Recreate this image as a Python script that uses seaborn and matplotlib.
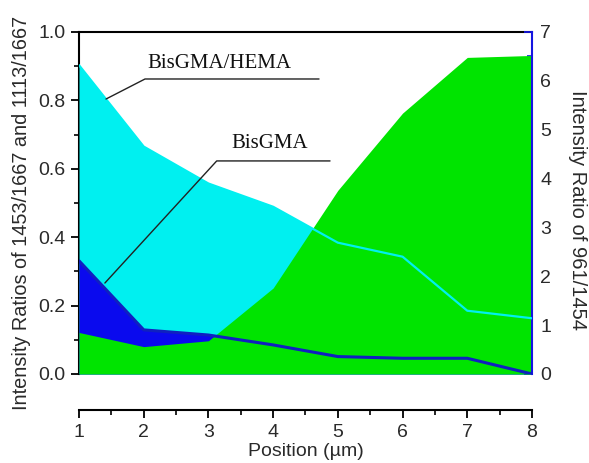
import matplotlib
matplotlib.use("Agg")
import matplotlib.pyplot as plt
from matplotlib.ticker import MultipleLocator
import seaborn as sns
import pandas as pd

# ---- data ----
position = [1, 2, 3, 4, 5, 6, 7, 8]
bisgma_hema = [0.903, 0.665, 0.557, 0.489, 0.384, 0.343, 0.185, 0.163]   # left axis
bisgma = [0.331, 0.129, 0.114, 0.085, 0.051, 0.046, 0.046, 0.0]          # left axis
ratio_961_1454 = [0.85, 0.56, 0.68, 1.76, 3.76, 5.34, 6.48, 6.52]        # right axis

label_left = "Intensity Ratios of 1453/1667 and 1113/1667"
label_right = "Intensity Ratio of 961/1454"
label_x = "Position (\u00b5m)"
ann_hema = "BisGMA/HEMA"
ann_bis = "BisGMA"

df = pd.DataFrame({"pos": position, "hema": bisgma_hema, "bis": bisgma, "r": ratio_961_1454})

sns.set_style("white")
plt.rcParams["font.family"] = ["Liberation Sans", "DejaVu Sans"]

CYAN = "#00F0F0"
GREEN = "#00E400"
BLUE_FILL = "#0A0AEE"
BLUE_LINE = "#1020C0"
AX_BLUE = "#1515E0"
TXT = "#2a2a2a"

fig = plt.figure(figsize=(5.89, 4.63), dpi=100)
ax = fig.add_axes([79/589, 1-374/463, 453/589, 342/463])
ax2 = ax.twinx()
ax3 = ax.twinx()

# fills on primary axes
ax.fill_between(df["pos"], df["hema"], 0, color=CYAN, lw=0, zorder=3)
ax.fill_between(df["pos"], df["bis"], 0, color=BLUE_FILL, lw=0, zorder=3)
# green on secondary (right) axes
ax2.fill_between(df["pos"], df["r"], 0, color=GREEN, lw=0, zorder=1)
# lines on top
sns.lineplot(data=df, x="pos", y="hema", ax=ax3, color=CYAN, lw=1.6)
sns.lineplot(data=df, x="pos", y="bis", ax=ax3, color=BLUE_LINE, lw=2.2)

for a in (ax, ax3):
    a.set_ylim(0, 1.0)
    a.set_xlim(1, 8)
ax2.set_ylim(0, 7)

# primary axes styling
ax.spines["right"].set_visible(False)
for s in ("left", "top", "bottom"):
    ax.spines[s].set_color("black")
    ax.spines[s].set_linewidth(1.5)
ax.spines["bottom"].set_position(("outward", 36 * 72 / 100))
ax.xaxis.set_major_locator(MultipleLocator(1))
ax.xaxis.set_minor_locator(MultipleLocator(0.5))
ax.yaxis.set_major_locator(MultipleLocator(0.2))
ax.yaxis.set_minor_locator(MultipleLocator(0.1))
ax.tick_params(axis="both", which="major", direction="out", length=6, width=1.3,
               colors="black", labelsize=14, labelcolor=TXT)
ax.tick_params(axis="both", which="minor", direction="out", length=3.5, width=1.2, colors="black")
ax.tick_params(axis="x", which="both", bottom=True, top=False)
ax.tick_params(axis="y", which="both", left=True, right=False)
ax.tick_params(axis="x", which="major", pad=4)
ax.set_yticks([0, 0.2, 0.4, 0.6, 0.8, 1.0])
ax.set_yticklabels(["0.0", "0.2", "0.4", "0.6", "0.8", "1.0"])
ax.set_xlabel(label_x, fontsize=14, color=TXT)
ax.set_ylabel(label_left, fontsize=14.3, color=TXT)
ax.xaxis.set_label_coords(0.5, (374 - 452) / 342)
ax.xaxis.label.set_va("center")
ax.yaxis.set_label_coords((22 - 79) / 453, (374 - 213) / 342)
ax.yaxis.label.set_va("center")

# secondary axes styling
for s in ("left", "top", "bottom"):
    ax2.spines[s].set_visible(False)
ax2.spines["right"].set_color(AX_BLUE)
ax2.spines["right"].set_linewidth(1.5)
ax2.yaxis.set_major_locator(MultipleLocator(1))
ax2.yaxis.set_minor_locator(MultipleLocator(0.5))
ax2.tick_params(axis="y", which="major", direction="in", length=6, width=1.3,
                colors=AX_BLUE, labelcolor=TXT, labelsize=14, pad=6)
ax2.tick_params(axis="y", which="minor", direction="in", length=3.5, width=1.2, colors=AX_BLUE)
ax2.set_ylabel(label_right, fontsize=14.5, color=TXT, rotation=270)
ax2.yaxis.set_label_coords((578 - 79) / 453, (374 - 210) / 342)
ax2.yaxis.label.set_va("center")

# top line axes: invisible
for s in ax3.spines.values():
    s.set_visible(False)
ax3.set_yticks([])
ax3.set_xlabel("")
ax3.set_ylabel("")
ax3.tick_params(axis="both", which="both", length=0, labelleft=False, labelright=False)

# annotations
ax3.text(3.17, 0.895, ann_hema, family="Liberation Serif",
         fontsize=15, ha="center", va="baseline", color="#111111")
ax3.plot([1.417, 2.02, 4.709], [0.804, 0.8626, 0.8626], color="#222222", lw=1.0)
ax3.text(3.95, 0.661, ann_bis, family="Liberation Serif",
         fontsize=15, ha="center", va="baseline", color="#111111")
ax3.plot([1.40, 3.128, 4.879], [0.266, 0.623, 0.623], color="#222222", lw=1.0)

fig.savefig("out.png", dpi=100)
